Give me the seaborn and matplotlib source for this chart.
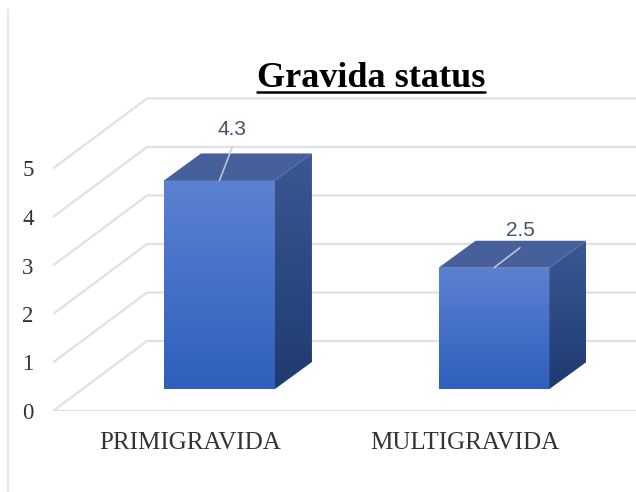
import matplotlib
matplotlib.use("Agg")
import matplotlib.pyplot as plt
import seaborn as sns
import numpy as np
import pandas as pd
from matplotlib.patches import Polygon
from matplotlib.lines import Line2D
from matplotlib.colors import LinearSegmentedColormap

# Data
categories = ["PRIMIGRAVIDA", "MULTIGRAVIDA"]
values = [4.3, 2.5]
value_labels = ["4.3", "2.5"]
y_ticks = [0, 1, 2, 3, 4, 5]
title = "Gravida status"

df = pd.DataFrame({"status": categories, "value": values})

sns.set_theme(style="white")
plt.rcParams["font.family"] = ["Liberation Serif", "DejaVu Serif"]

# Layout (pixels on a 636x492 canvas)
W, H = 636, 492
left, right, bottom, top = 53, 636, 411, 60
px_x = 274.5   # px per category step
px_y = 48.5    # px per value unit
x0_px = 219.5  # centre of first bar front face
y0_px = 389    # base of bar front faces

def off(dxp, dyp):
    return dxp / px_x, dyp / px_y

bar_depth = off(37, 27)
floor_front = off(-29.5, -22)
wall_depth = off(94, 70)
label_offsets = [(13, 51), (26, 37)]

fig = plt.figure(figsize=(W / 100, H / 100), dpi=100)
ax = fig.add_axes([left / W, 1 - bottom / H, (right - left) / W, (bottom - top) / H])

ax_x = ((left - x0_px) / px_x, (right - x0_px) / px_x)
ax_y = ((y0_px - bottom) / px_y, (y0_px - top) / px_y)

# gridlines: left side wall diagonals + back wall lines
grid_c = "#dde1e8"
for v in y_ticks:
    fx, fy = ax_x[0], v + floor_front[1]
    bx, by = fx + wall_depth[0], fy + wall_depth[1]
    ax.plot([fx, bx, ax_x[1] + 1], [fy, by, by], color=grid_c, lw=1.6, zorder=1,
            solid_joinstyle="miter")
ax.plot([ax_x[0], ax_x[1] + 1], [floor_front[1]] * 2, color=grid_c, lw=1.6, zorder=1)

# front faces through seaborn
sns.barplot(data=df, x="status", y="value", width=0.404, ax=ax, zorder=3,
            color="#4472c4", edgecolor="none", saturation=1)

front_cmap = LinearSegmentedColormap.from_list("front", ["#5c81d1", "#2f5fbd"])
side_cmap = LinearSegmentedColormap.from_list("side", ["#3b5894", "#1e3a70"])
grad = np.linspace(0, 1, 256).reshape(-1, 1)

for i, bar in enumerate(ax.patches[:len(values)]):
    x, w, h = bar.get_x(), bar.get_width(), bar.get_height()
    dx, dy = bar_depth
    # front gradient
    im = ax.imshow(grad, cmap=front_cmap, extent=[x, x + w, 0, h], origin="upper",
                   aspect="auto", zorder=4)
    im.set_clip_path(bar)
    bar.set_facecolor("none")
    # side face
    side = Polygon([(x + w, 0), (x + w + dx, dy), (x + w + dx, h + dy), (x + w, h)],
                   closed=True, facecolor="none", edgecolor="none", zorder=4)
    ax.add_patch(side)
    im2 = ax.imshow(grad, cmap=side_cmap, extent=[x + w, x + w + dx, 0, h + dy],
                    origin="upper", aspect="auto", zorder=4)
    im2.set_clip_path(side)
    # top face
    ax.add_patch(Polygon([(x, h), (x + dx, h + dy), (x + w + dx, h + dy), (x + w, h)],
                         closed=True, facecolor="#475f9b", edgecolor="none", zorder=5))
    # data label with leader line
    cx = x + w / 2
    lx, ly = off(*label_offsets[i])
    ex, ey = off(label_offsets[i][0], label_offsets[i][1] - 17)
    ax.plot([cx, cx + ex], [h, h + ey], color="#c9ccd2", lw=1.1, zorder=6)
    ax.text(cx + lx, h + ly, value_labels[i], ha="center", va="center",
            fontsize=15, color="#44546a", family=["Liberation Sans", "DejaVu Sans"],
            zorder=7)

ax.set_xlim(*ax_x)
ax.set_ylim(*ax_y)

# ticks placed on the front edge of the floor
ax.set_xticks([k + floor_front[0] for k in range(len(categories))])
ax.set_xticklabels(categories, fontsize=18, color="#333333")
ax.set_yticks([v + floor_front[1] for v in y_ticks])
ax.set_yticklabels([str(v) for v in y_ticks], fontsize=16.5, color="#333333")
ax.tick_params(axis="x", length=0, pad=15)
ax.tick_params(axis="y", length=0, pad=14)
ax.set_xlabel("")
ax.set_ylabel("")
for s in ax.spines.values():
    s.set_visible(False)

# title with underline
t = fig.text(371 / W, 1 - 87 / H, title, ha="center", va="baseline",
             fontsize=26, fontweight="bold", color="#000000")
fig.canvas.draw()
bb = t.get_window_extent()
fig.add_artist(Line2D([bb.x0 / W, bb.x1 / W], [1 - 92 / H] * 2, color="black", lw=1.8))

# chart area border on the left
fig.add_artist(Line2D([8 / W, 8 / W], [1 - 10 / H, 0], color="#e3e6ea", lw=1.5))

fig.savefig("out.png", dpi=100)
